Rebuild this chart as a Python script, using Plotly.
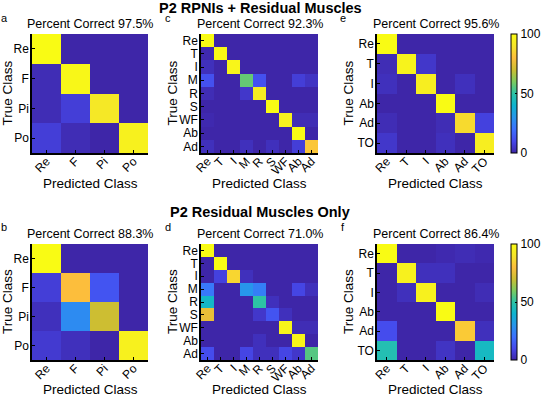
import plotly.graph_objects as go

W, H = 542, 397

# ---------------- data ----------------
cls4 = ["Re", "F", "Pi", "Po"]
cls9 = ["Re", "T", "I", "M", "R", "S", "WF", "Ab", "Ad"]
cls6 = ["Re", "T", "I", "Ab", "Ad", "TO"]

# rows = true class, cols = predicted class (percent)
z_a = [[100, 0, 0, 0],
       [2, 98, 0, 0],
       [2, 7, 91, 0],
       [7, 2, 0, 95]]
z_b = [[100, 0, 0, 0],
       [7, 80, 13, 0],
       [3, 27, 70, 0],
       [6, 3, 0, 95]]
z_c = [[100, 0, 0, 0, 0, 0, 0, 0, 0],
       [1, 99, 0, 0, 0, 0, 0, 0, 0],
       [3, 0, 97, 0, 0, 0, 0, 0, 0],
       [12, 0, 0, 57, 12, 0, 0, 7, 4],
       [2, 0, 0, 5, 93, 0, 0, 0, 0],
       [0, 0, 0, 0, 0, 100, 0, 0, 0],
       [1, 0, 0, 0, 0, 0, 95, 2, 2],
       [0, 0, 0, 0, 0, 0, 0, 100, 0],
       [3, 0, 0, 3, 0, 3, 0, 7, 82]]
z_d = [[100, 0, 0, 0, 0, 0, 0, 0, 0],
       [0, 100, 0, 0, 0, 0, 0, 0, 0],
       [0, 8, 86, 3, 0, 0, 0, 0, 0],
       [22, 0, 0, 30, 24, 0, 0, 9, 3],
       [42, 0, 0, 0, 50, 3, 0, 0, 0],
       [76, 0, 0, 0, 5, 13, 3, 0, 0],
       [0, 0, 0, 0, 0, 0, 97, 2, 2],
       [0, 0, 0, 0, 3, 0, 0, 97, 0],
       [11, 0, 0, 9, 3, 3, 9, 5, 55]]
z_e = [[100, 0, 0, 0, 0, 0],
       [2, 96, 5, 0, 0, 0],
       [3, 0, 94, 0, 3, 0],
       [0, 0, 0, 100, 0, 0],
       [2, 0, 0, 2, 87, 8],
       [5, 0, 0, 3, 0, 94]]
z_f = [[100, 0, 0, 1, 2, 1],
       [0, 95, 3, 3, 0, 0],
       [0, 3, 95, 0, 0, 2],
       [0, 0, 0, 100, 0, 0],
       [11, 0, 0, 0, 83, 3],
       [47, 0, 0, 4, 0, 43]]

acc = ["97.5", "88.3", "92.3", "71.0", "95.6", "86.4"]
letters = ["a", "b", "c", "d", "e", "f"]
row_titles = ["P2 RPNIs + Residual Muscles", "P2 Residual Muscles Only"]
cbar_ticks = [0, 50, 100]

parula = [
    [0.0, "rgb(62,38,168)"],
    [0.1, "rgb(70,72,235)"],
    [0.2, "rgb(60,112,254)"],
    [0.3, "rgb(39,150,235)"],
    [0.4, "rgb(14,180,207)"],
    [0.5, "rgb(45,195,165)"],
    [0.6, "rgb(125,203,95)"],
    [0.7, "rgb(205,190,50)"],
    [0.8, "rgb(252,190,60)"],
    [0.9, "rgb(245,230,40)"],
    [1.0, "rgb(249,251,20)"],
]

FONT = "Arial, Liberation Sans, sans-serif"

# ---------------- layout geometry (pixels) ----------------
xcols = [(32, 148), (201, 318), (377, 494)]
yrows = [(34, 153), (244, 360)]

panels = [
    (0, 0, cls4, z_a), (1, 0, cls4, z_b),
    (0, 1, cls9, z_c), (1, 1, cls9, z_d),
    (0, 2, cls6, z_e), (1, 2, cls6, z_f),
]

fig = go.Figure()
annotations = []
layout = {}

for i, (r, c, cls, z) in enumerate(panels):
    k = i + 1
    xa = "x" if k == 1 else f"x{k}"
    ya = "y" if k == 1 else f"y{k}"
    ca = "coloraxis" if r == 0 else "coloraxis2"
    fig.add_trace(go.Heatmap(z=z, x=cls, y=cls, xaxis=xa, yaxis=ya,
                             coloraxis=ca))
    x0, x1 = xcols[c]
    y0, y1 = yrows[r]
    common = dict(showline=True, linecolor="black", linewidth=1.5,
                  ticks="inside", ticklen=3, tickcolor="black", tickwidth=1,
                  tickfont=dict(size=12, color="black", family=FONT),
                  tickmode="array", tickvals=cls, ticktext=cls,
                  showgrid=False, zeroline=False, mirror=False, type="category",
                  automargin=False)
    layout["xaxis" if k == 1 else f"xaxis{k}"] = dict(
        domain=[x0 / W, x1 / W], anchor=ya, tickangle=-45,
        ticklabelstandoff=-5, **common)
    layout["yaxis" if k == 1 else f"yaxis{k}"] = dict(
        domain=[1 - y1 / H, 1 - y0 / H], anchor=xa, autorange="reversed",
        ticklabelstandoff=-1, **common)

    xc = (x0 + x1) / 2
    annotations.append(dict(text=f"Percent Correct {acc[i]}%", x=xc / W,
                            y=1 - (y0 - 1) / H, xref="paper", yref="paper",
                            xanchor="center", yanchor="bottom", showarrow=False,
                            font=dict(size=12.5, color="black", family=FONT)))
    annotations.append(dict(text="Predicted Class", x=xc / W,
                            y=1 - ((183 if r == 0 else 389)) / H, xref="paper", yref="paper",
                            xanchor="center", yanchor="middle", showarrow=False,
                            font=dict(size=13.5, color="black", family=FONT)))
    ytx = [7, 172, 348][c]
    annotations.append(dict(text="True Class", x=ytx / W,
                            y=1 - ((y0 + y1) / 2) / H, xref="paper", yref="paper",
                            xanchor="center", yanchor="middle", textangle=-90,
                            showarrow=False,
                            font=dict(size=13.5, color="black", family=FONT)))
    lx = [4, 168, 343][c]
    ly = [18, 227][r]
    annotations.append(dict(text=letters[i], x=lx / W, y=1 - ly / H,
                            xref="paper", yref="paper", xanchor="center",
                            yanchor="middle", showarrow=False,
                            font=dict(size=11, color="black", family=FONT)))

for r, t in enumerate(row_titles):
    annotations.append(dict(text=f"<b>{t}</b>", x=260 / W, y=1 - [8, 212][r] / H,
                            xref="paper", yref="paper", xanchor="center",
                            yanchor="middle", showarrow=False,
                            font=dict(size=14.5, color="black", family=FONT)))


def cbar(y0, y1):
    return dict(x=511 / W, xanchor="left", y=1 - ((y0 + y1) / 2) / H,
                yanchor="middle", len=(y1 - y0) / H, lenmode="fraction",
                thickness=6, thicknessmode="pixels", outlinewidth=1,
                outlinecolor="black", tickvals=cbar_ticks, ticks="inside",
                ticklen=2, tickcolor="black", ticklabeloverflow="allow",
                tickfont=dict(size=12, color="black", family=FONT),
                xpad=0, ypad=0, borderwidth=0)


fig.update_layout(
    width=W, height=H, margin=dict(l=0, r=0, t=0, b=0, autoexpand=False),
    paper_bgcolor="white", plot_bgcolor="white",
    font=dict(family=FONT, color="black"),
    coloraxis=dict(colorscale=parula, cmin=0, cmax=100, colorbar=cbar(*yrows[0])),
    coloraxis2=dict(colorscale=parula, cmin=0, cmax=100, colorbar=cbar(*yrows[1])),
    annotations=annotations,
    **layout,
)

fig.write_html("out.html", config={"displayModeBar": False},
               post_script="document.body.style.margin='0';document.body.style.padding='0';document.body.style.overflow='hidden';")
